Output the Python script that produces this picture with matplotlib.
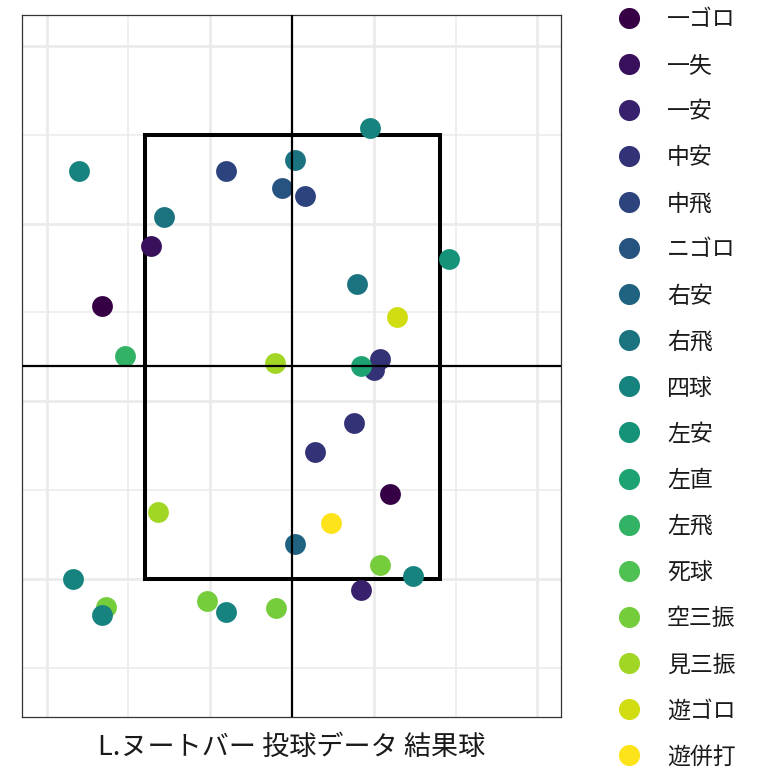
import numpy as np
import matplotlib
matplotlib.use('Agg')
import matplotlib.pyplot as plt
from matplotlib.patches import Rectangle

plt.rcParams['font.family'] = ['Noto Sans CJK JP', 'DejaVu Sans']

results = ['一ゴロ', '一失', '一安', '中安', '中飛', 'ニゴロ', '右安', '右飛', '四球',
           '左安', '左直', '左飛', '死球', '空三振', '見三振', '遊ゴロ', '遊併打']

# pitch location (horizontal, height)
pitch_result = ['四球', '中飛', '右飛', 'ニゴロ', '中飛', '四球', '右飛', '一失', '左安',
                '右飛', '一ゴロ', '遊ゴロ', '左飛', '見三振', '中安', '中安', '左直',
                '中安', '中安', '一ゴロ', '見三振', '遊併打', '右安', '空三振', '四球',
                '四球', '一安', '空三振', '四球', '空三振', '四球', '空三振']
pitch_x = [-1.305, -0.404, 0.018, -0.061, 0.080, 0.477, -0.783, -0.862, 0.960,
           0.398, -1.162, 0.642, -1.021, -0.104, 0.538, 0.502, 0.422,
           0.379, 0.141, 0.599, -0.820, 0.239, 0.018, 0.538, 0.740,
           -1.342, 0.422, -1.138, -1.162, -0.520, -0.404, -0.098]
pitch_z = [3.298, 3.296, 3.358, 3.200, 3.155, 3.538, 3.037, 2.874, 2.801,
           2.660, 2.536, 2.475, 2.255, 2.216, 2.238, 2.176, 2.199,
           1.878, 1.715, 1.478, 1.377, 1.315, 1.197, 1.079, 1.017,
           1.000, 0.938, 0.843, 0.797, 0.876, 0.814, 0.837]

zone_left, zone_right = -0.9, 0.905
zone_bottom, zone_top = 1.0, 3.5
center_x, center_z = 0.0, 2.2

# viridis, a bit darker like the original render
palette = plt.cm.viridis(np.linspace(0, 1, len(results)))
palette[:, :3] = palette[:, :3] ** 1.18
color_of = dict(zip(results, palette))

fig = plt.figure(figsize=(7.68, 7.68), dpi=100)
ax = fig.add_axes([22 / 768, 51 / 768, 539 / 768, 702 / 768])

ax.set_xlim(-1.651, 1.645)
ax.set_ylim(0.223, 4.174)
ax.set_xticks([-1.5, -0.5, 0.5, 1.5])
ax.set_xticks([-1.0, 0.0, 1.0], minor=True)
ax.set_yticks([1, 2, 3, 4])
ax.set_yticks([0.5, 1.5, 2.5, 3.5], minor=True)
ax.tick_params(which='both', length=0, labelbottom=False, labelleft=False)
ax.grid(which='major', color='#EBEBEB', lw=2.0)
ax.grid(which='minor', color='#EBEBEB', lw=1.1)
ax.set_axisbelow(True)
for s in ax.spines.values():
    s.set_color('#333333')
    s.set_linewidth(0.9)

ax.add_patch(Rectangle((zone_left, zone_bottom), zone_right - zone_left,
                       zone_top - zone_bottom, fill=False, ec='black', lw=2.9, zorder=2))

for i, (r, x, z) in enumerate(zip(pitch_result, pitch_x, pitch_z)):
    ax.plot(x, z, 'o', ms=15.0, color=color_of[r], mec='none', zorder=3 + i * 0.01)

ax.axvline(center_x, color='black', lw=1.6, zorder=4)
ax.axhline(center_z, color='black', lw=1.6, zorder=4)

ax.set_xlabel('L.ヌートバー 投球データ 結果球', fontsize=19.5, color='#1A1A1A', labelpad=12)

# legend
lax = fig.add_axes([0, 0, 1, 1], zorder=-1)
lax.set_xlim(0, 768)
lax.set_ylim(768, 0)
lax.axis('off')
for i, r in enumerate(results):
    yy = 17.5 + 46.1 * i
    lax.plot(629, yy, 'o', ms=15.2, color=color_of[r], mec='none')
    lax.text(667, yy + 2, r, fontsize=16.5, color='#1A1A1A', va='center', ha='left')

fig.savefig('out.png', dpi=100)
